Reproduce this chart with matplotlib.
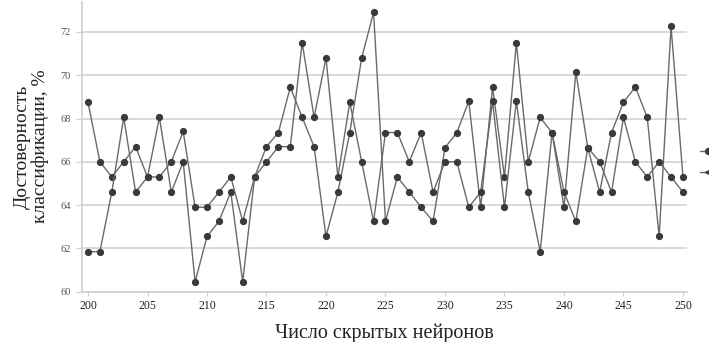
import matplotlib
matplotlib.use("Agg")
import matplotlib.pyplot as plt
from matplotlib.lines import Line2D
import numpy as np

neurons = list(range(200, 251))

series_1 = [68.75, 66.0, 65.3, 66.0, 66.7, 65.3,
            68.05, 64.6, 66.0, 60.45, 62.55, 63.25, 64.6, 60.45, 65.3,
            66.7, 67.35, 69.45, 68.05, 66.7, 62.55, 64.6, 67.35, 70.8, 72.9,
            63.25, 65.3, 64.6, 63.9, 63.25, 66.65, 67.35, 68.8, 63.9, 69.45,
            65.3, 71.5, 66.0, 68.05, 67.35,
            63.9, 70.15, 66.65,
            64.6, 67.35, 68.75, 69.45, 68.05, 62.55, 72.25, 65.3]

series_2 = [61.85, 61.85, 64.6, 68.05, 64.6, 65.3,
            65.3, 66.0, 67.4, 63.9, 63.9, 64.6, 65.3, 63.25, 65.3,
            66.0, 66.7, 66.7, 71.5, 68.05, 70.8, 65.3, 68.75, 66.0, 63.25,
            67.35, 67.35, 66.0, 67.35, 64.6, 66.0, 66.0, 63.9, 64.6, 68.8,
            63.9, 68.8, 64.6, 61.85, 67.35,
            64.6, 63.25, 66.65,
            66.0, 64.6, 68.05, 66.0, 65.3, 66.0, 65.3, 64.6]

y_ticks = [60, 62, 64, 66, 68, 70, 72]
x_ticks = list(range(200, 251, 5))

plt.rcParams['font.family'] = ['Liberation Serif', 'DejaVu Serif']

W, H = 709, 342
fig = plt.figure(figsize=(W / 100, H / 100), dpi=100)
ax = fig.add_axes([81.7 / W, 1 - 291.7 / H, (687 - 81.7) / W, (291.7 - 1.6) / H])

line_col = '#6a6a6a'
mark_col = '#3a3a3a'
for s in (series_1, series_2):
    ax.plot(neurons, s, color=line_col, lw=1.0, marker='o', ms=4.2,
            mfc=mark_col, mec=mark_col, zorder=3)

ax.set_xlim(199.47, 250.34)
ax.set_ylim(60, 73.4)
ax.set_yticks(y_ticks)
ax.set_xticks(x_ticks)
ax.yaxis.grid(True, color='#d8d8d8', lw=1.4)
ax.set_axisbelow(True)
for side in ('top', 'right'):
    ax.spines[side].set_visible(False)
ax.spines['left'].set_color('#cfcfcf')
ax.spines['bottom'].set_color('#cfcfcf')
ax.spines['left'].set_linewidth(1.2)
ax.spines['bottom'].set_linewidth(1.2)
ax.tick_params(axis='y', length=4, color='#cfcfcf', labelsize=7.5,
               labelcolor='#555555', pad=4)
ax.tick_params(axis='x', length=3, color='#cfcfcf', labelsize=8.5,
               labelcolor='#222222', pad=3)

ax.set_xlabel('Число скрытых нейронов', fontsize=14.5, color='#222222', labelpad=8)
ax.set_ylabel('Достоверность\nклассификации, %', fontsize=14,
              color='#222222', labelpad=8, linespacing=1.05)

handles = [Line2D([], [], color=line_col, lw=1.0, marker='o', ms=4.2,
                  mfc=mark_col, mec=mark_col),
           Line2D([], [], color=line_col, lw=1.0, marker='<', ms=4.5,
                  mfc=mark_col, mec=mark_col)]
fig.legend(handles, ['', ''], loc='center left',
           bbox_to_anchor=(693 / W, 1 - 163 / H), frameon=False,
           handlelength=1.2, labelspacing=0.6, borderpad=0, handletextpad=0.2,
           fontsize=10)

fig.savefig('out.png', dpi=100)
